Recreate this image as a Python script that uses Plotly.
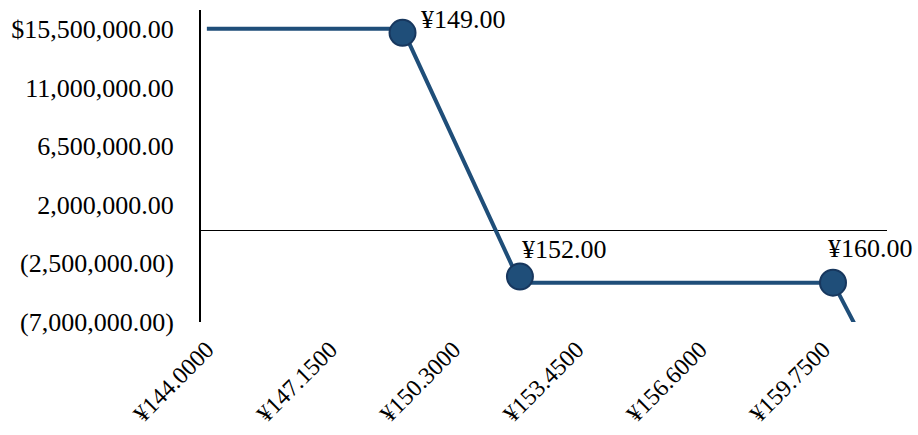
import plotly.graph_objects as go

# Data
line_x = [144, 149, 152, 160, 162]
line_y = [15500000, 15500000, -4000000, -4000000, -15500000]
point_x = [149, 152, 160]
point_y = [15200000, -3530000, -4000000]
point_labels = ["¥149.00", "¥152.00", "¥160.00"]
label_xshift = [16, 0, -7]
label_yshift = [13, 27, 34]

x_tickvals = [144.0, 147.15, 150.3, 153.45, 156.6, 159.75]
x_ticktext = ["¥144.0000", "¥147.1500", "¥150.3000", "¥153.4500", "¥156.6000", "¥159.7500"]
y_tickvals = [15500000, 11000000, 6500000, 2000000, -2500000, -7000000]
y_ticktext = ["$15,500,000.00", "11,000,000.00", "6,500,000.00", "2,000,000.00",
              "(2,500,000.00)", "(7,000,000.00)"]

LINE_COLOR = "#1F4E79"
FONT = "Liberation Serif"

fig = go.Figure()
fig.add_trace(go.Scatter(
    x=line_x, y=line_y, mode="lines",
    line=dict(color=LINE_COLOR, width=4),
    hoverinfo="skip", showlegend=False,
))
fig.add_trace(go.Scatter(
    x=point_x, y=point_y, mode="markers",
    marker=dict(size=26, color=LINE_COLOR, line=dict(color="#17375E", width=2)),
    showlegend=False, cliponaxis=False,
))

for px, py, t, xs, ys in zip(point_x, point_y, point_labels, label_xshift, label_yshift):
    fig.add_annotation(x=px, y=py, text=t, showarrow=False,
                       xanchor="left", yanchor="middle",
                       xshift=xs, yshift=ys,
                       font=dict(family=FONT, size=26, color="black"))

fig.update_layout(
    width=918, height=435,
    margin=dict(l=201, r=31, t=10, b=113),
    paper_bgcolor="white", plot_bgcolor="white",
    font=dict(family=FONT, size=26, color="black"),
)
fig.update_xaxes(
    range=[143.85, 161.38], automargin=False,
    tickvals=x_tickvals, ticktext=x_ticktext,
    tickangle=-45, showgrid=False, zeroline=False, showline=False,
    ticks="outside", ticklen=3, tickcolor="rgba(0,0,0,0)",
    tickfont=dict(family=FONT, size=24, color="black"),
)
fig.update_yaxes(
    range=[-7020000, 16950000], automargin=False,
    tickvals=y_tickvals, ticktext=y_ticktext,
    showgrid=False, zeroline=True, zerolinecolor="black", zerolinewidth=1,
    showline=True, linecolor="black", linewidth=2,
    ticks="outside", ticklen=20, tickcolor="rgba(0,0,0,0)",
    tickfont=dict(family=FONT, size=26, color="black"),
)

fig.write_html("out.html")
